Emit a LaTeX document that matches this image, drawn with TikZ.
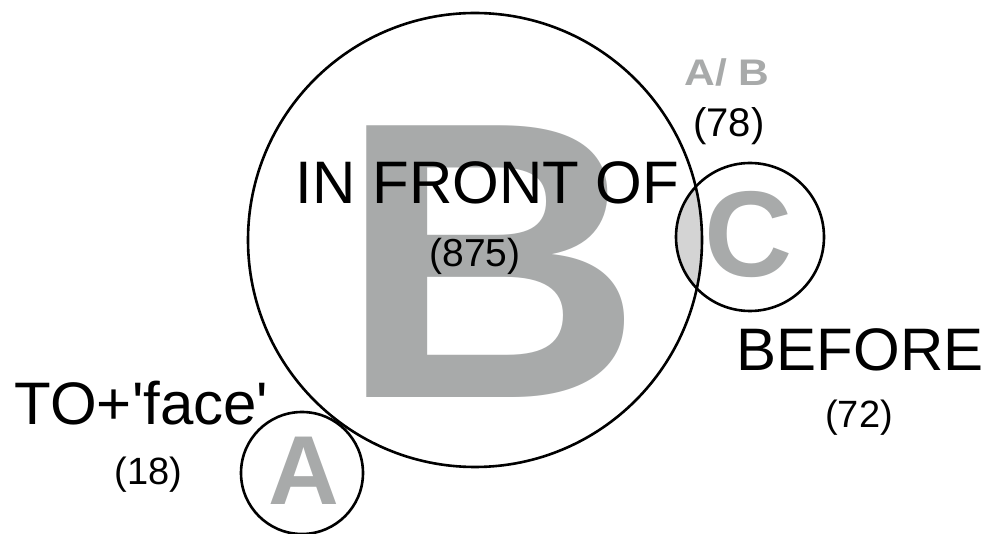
\documentclass[tikz,border=0pt]{standalone}
\usepackage{fontspec}
\setmainfont{Liberation Sans}
\definecolor{lettergray}{RGB}{168,170,170}
\definecolor{lensgray}{RGB}{212,212,212}
\tikzset{
  setcircle/.style={circle,draw=black,line width=2.6pt,inner sep=0pt,outer sep=0pt},
  bigletter/.style={text=lettergray,font=\bfseries,inner sep=0pt,anchor=base},
  label/.style={text=black,inner sep=0pt,anchor=base},
}
\newcommand{\fsz}[1]{\fontsize{#1}{#1}\selectfont}
\begin{document}
\begin{tikzpicture}[x=1pt,y=-1pt]
\useasboundingbox (0,0) rectangle (986,534);
% lens fill
\begin{scope}
  \clip (475,240) circle (227pt);
  \fill[lensgray] (750,237) circle (74pt);
\end{scope}
% big grey letters
\node[bigletter,xscale=1.07] (letB) at (491,398) {\fsz{395}B};
\node[bigletter] (letC) at (748.5,276.5) {\fsz{122}C};
\node[bigletter] (letA) at (303.5,505) {\fsz{98}A};
% circles
\node[setcircle,minimum size=454pt] (cB) at (475,240) {};
\node[setcircle,minimum size=148pt] (cC) at (750,237) {};
\node[setcircle,minimum size=122pt] (cA) at (302,473) {};
% labels
\node[label] (infront) at (487.5,204) {\fsz{60}IN FRONT OF};
\node[label] (n875) at (475,267) {\fsz{39}(875)};
\node[label,text=lettergray,font=\bfseries,xscale=1.15] (ab) at (727,86) {\fsz{37}A/ B};
\node[label] (n78) at (729,136.5) {\fsz{40}(78)};
\node[label] (before) at (860,371) {\fsz{60}BEFORE};
\node[label] (n72) at (859,428) {\fsz{38}(72)};
\node[label] (toface) at (141.5,425) {\fsz{60}TO+\textquotesingle face\textquotesingle};
\node[label] (n18) at (148.5,485) {\fsz{38}(18)};
\end{tikzpicture}
\end{document}
